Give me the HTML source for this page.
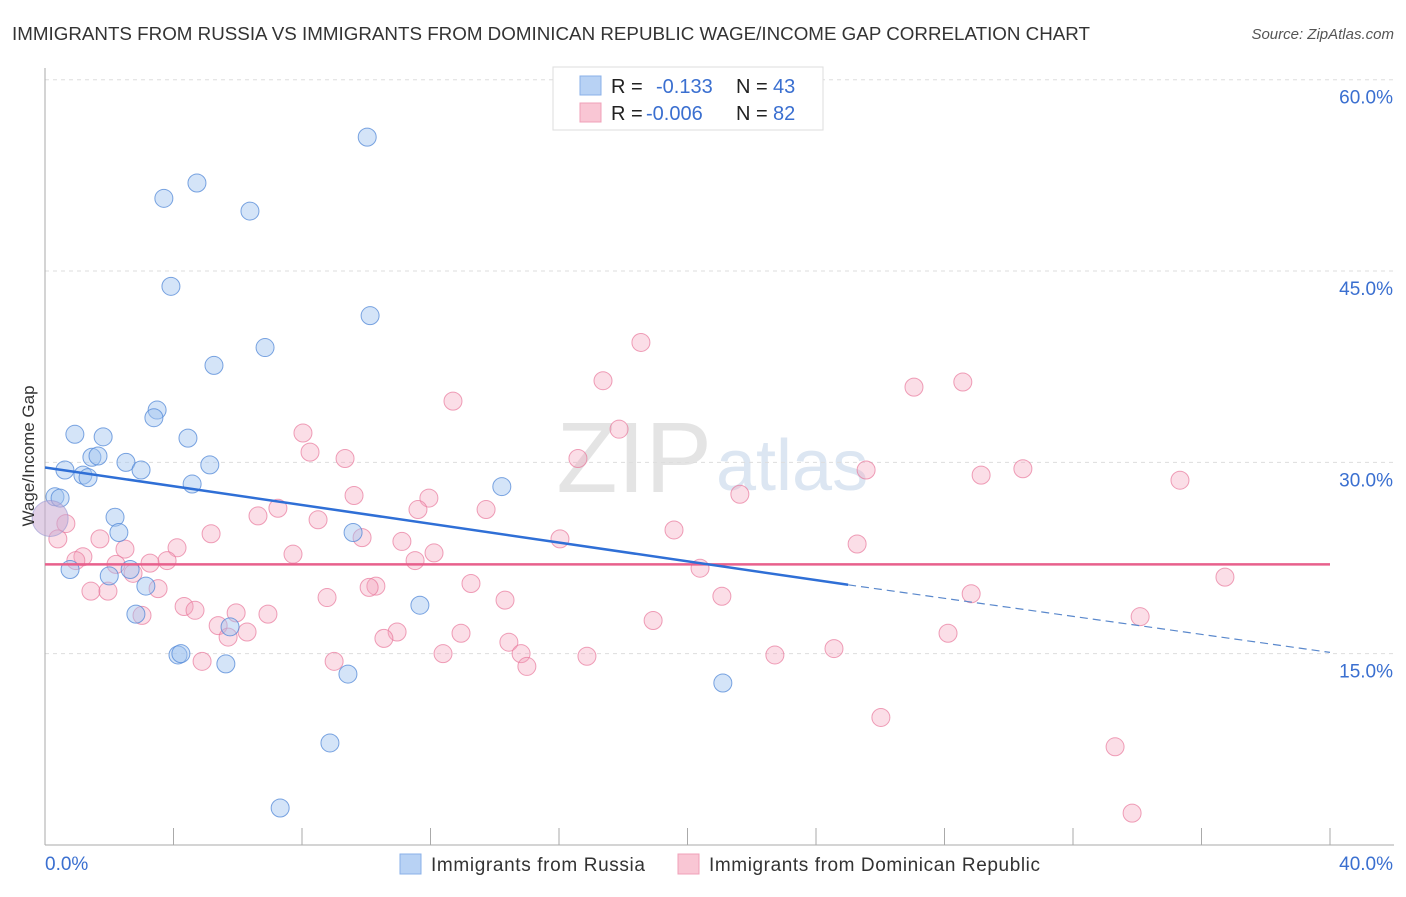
<!DOCTYPE html>
<html><head><meta charset="utf-8"><style>
body{margin:0;background:#fff;font-family:"Liberation Sans",sans-serif;}
svg text{font-family:"Liberation Sans",sans-serif;}
</style></head><body>
<svg id="chart" width="1406" height="892" xmlns="http://www.w3.org/2000/svg">
<text x="12" y="40" font-size="18" fill="#333" textLength="1078" lengthAdjust="spacingAndGlyphs">IMMIGRANTS FROM RUSSIA VS IMMIGRANTS FROM DOMINICAN REPUBLIC WAGE/INCOME GAP CORRELATION CHART</text>
<text x="1394" y="39" font-size="15" fill="#555" text-anchor="end" font-style="italic">Source: ZipAtlas.com</text>
<text x="712" y="492" font-size="100" fill="#e4e4e4" text-anchor="end" font-family="Liberation Serif">ZIP</text>
<text x="716" y="490" font-size="72" fill="#dce6f2">atlas</text>
<g id="grid"></g>
<g id="axes"></g>
<g id="pts"></g>
<g id="lines"></g>
<text transform="translate(34,456) rotate(-90)" font-size="17" fill="#333" text-anchor="middle">Wage/Income Gap</text>
<g>
<rect x="553" y="67" width="270" height="63" fill="#fff" stroke="#ddd"/>
<rect x="580" y="76" width="21" height="19" fill="#b8d2f4" stroke="#8ab0e8"/>
<rect x="580" y="103" width="21" height="19" fill="#f9c6d4" stroke="#f0a0b8"/>
<text x="611" y="93" font-size="20" fill="#222">R = </text><text x="656" y="93" font-size="20" fill="#3a6fd0">-0.133</text>
<text x="736" y="93" font-size="20" fill="#222">N = </text><text x="773" y="93" font-size="20" fill="#3a6fd0">43</text>
<text x="611" y="120" font-size="20" fill="#222">R = </text><text x="646" y="120" font-size="20" fill="#3a6fd0">-0.006</text>
<text x="736" y="120" font-size="20" fill="#222">N = </text><text x="773" y="120" font-size="20" fill="#3a6fd0">82</text>
</g>
<g>
<rect x="400" y="854" width="21" height="20" fill="#b8d2f4" stroke="#8ab0e8"/>
<text x="431" y="871" font-size="19" fill="#333" textLength="214">Immigrants from Russia</text>
<rect x="678" y="854" width="21" height="20" fill="#f9c6d4" stroke="#f0a0b8"/>
<text x="709" y="871" font-size="19" fill="#333" textLength="331">Immigrants from Dominican Republic</text>
</g>
</svg>
<script>
const xTicks=[0,4,8,12,16,20,24,28,32,36,40];
const yTicks=[15,30,45,60];
const yTickLabels=["15.0%","30.0%","45.0%","60.0%"];
const russiaX=[10.03,4.73,3.70,6.38,3.92,10.12,6.85,5.26,3.49,3.39,0.93,1.81,4.45,1.46,1.65,2.52,2.99,0.62,5.13,1.18,1.34,4.58,14.22,0.31,0.47,2.18,2.30,9.59,0.78,2.65,2.00,3.14,2.83,11.67,5.76,4.14,4.23,5.63,9.43,21.10,8.87,7.32];
const russiaY=[55.5,51.9,50.7,49.7,43.8,41.5,39.0,37.6,34.1,33.5,32.2,32.0,31.9,30.4,30.5,30.0,29.4,29.4,29.8,29.0,28.8,28.3,28.1,27.3,27.2,25.7,24.5,24.5,21.6,21.6,21.1,20.3,18.1,18.8,17.1,14.9,15.0,14.2,13.4,12.7,8.0,2.9];
const domX=[18.55,17.37,27.05,28.57,12.70,8.03,17.87,9.34,8.25,16.59,25.56,29.14,30.44,35.33,9.62,21.63,11.95,7.25,11.61,13.73,6.63,8.50,0.65,9.87,19.58,5.17,16.03,11.11,4.11,2.49,12.11,7.72,25.28,1.71,0.40,1.18,0.96,3.80,3.27,2.21,11.52,2.74,20.39,13.26,36.73,1.43,1.96,3.52,10.30,10.09,8.78,14.32,21.07,28.83,4.33,4.67,5.95,6.94,3.02,34.09,5.39,18.93,6.29,10.96,10.55,12.95,5.70,14.44,28.11,12.39,14.82,24.56,4.89,16.87,22.72,9.00,15.00,26.02,33.31,33.84];
const domY=[39.4,36.4,35.9,36.3,34.8,32.3,32.6,30.3,30.8,30.3,29.4,29.0,29.5,28.6,27.4,27.5,27.2,26.4,26.3,26.3,25.8,25.5,25.2,24.1,24.7,24.4,24.0,23.8,23.3,23.2,22.9,22.8,23.6,24.0,24.0,22.6,22.3,22.3,22.1,22.0,22.3,21.3,21.7,20.5,21.0,19.9,19.9,20.1,20.3,20.2,19.4,19.2,19.5,19.7,18.7,18.4,18.2,18.1,18.0,17.9,17.2,17.6,16.7,16.7,16.2,16.6,16.3,15.9,16.6,15.0,15.0,15.4,14.4,14.8,14.9,14.4,14.0,10.0,7.7,2.5];
const bigX=[0.16], bigRY=[25.6], bigDY=[25.5];
const blueLine=[[0,29.6],[25,20.4]], blueDash=[[25,20.4],[40,15.1]], pinkLine=[[0,22.0],[40,22.0]];
const X=v=>45+v*32.125, Y=v=>845-v*(765.3/60);
const NS="http://www.w3.org/2000/svg";
function mk(t,a,p){const e=document.createElementNS(NS,t);for(const k in a)e.setAttribute(k,a[k]);p.appendChild(e);return e;}
const grid=document.getElementById('grid'),axes=document.getElementById('axes'),pts=document.getElementById('pts'),lines=document.getElementById('lines');
yTicks.forEach((t,i)=>{const g=mk('line',{x1:45,x2:1394,y1:Y(t),y2:Y(t),stroke:'#ddd','stroke-dasharray':'4,4'},grid);


const l=mk('text',{x:1393,y:Y(t)+24,'font-size':19,fill:'#3a6fd0','text-anchor':'end'},axes);l.textContent=yTickLabels[i];

});
const ax=mk('line',{x1:45,x2:45,y1:68,y2:845,stroke:'#aaa'},axes);


const bx=mk('line',{x1:45,x2:1394,y1:845,y2:845,stroke:'#aaa'},axes);


xTicks.forEach(t=>{const k=mk('line',{x1:X(t),x2:X(t),y1:828,y2:845,stroke:'#aaa'},axes);

});
const xl0=mk('text',{x:45,y:870,'font-size':19,fill:'#3a6fd0'},axes);xl0.textContent='0.0%';


const xl1=mk('text',{x:1393,y:870,'font-size':19,fill:'#3a6fd0','text-anchor':'end'},axes);xl1.textContent='40.0%';


domX.forEach((v,i)=>{const c=mk('circle',{cx:X(v),cy:Y(domY[i]),r:9,fill:'rgba(244,160,186,0.35)',stroke:'rgba(232,120,155,0.7)','stroke-width':1},pts);

});
russiaX.forEach((v,i)=>{const c=mk('circle',{cx:X(v),cy:Y(russiaY[i]),r:9,fill:'rgba(160,195,240,0.45)',stroke:'rgba(80,135,215,0.75)','stroke-width':1},pts);

});
const big=mk('circle',{cx:X(bigX[0]),cy:Y(bigRY[0]),r:18,fill:'rgba(200,170,210,0.55)',stroke:'rgba(150,150,210,0.6)'},pts);


function ln(p,st,nm){const e=mk('line',Object.assign({x1:X(p[0][0]),y1:Y(p[0][1]),x2:X(p[1][0]),y2:Y(p[1][1])},st),lines);

}
ln(pinkLine,{stroke:'#e8608c','stroke-width':2.5},'dominican-trend-line');
ln(blueLine,{stroke:'#2f6fd6','stroke-width':2.5},'russia-trend-line');
ln(blueDash,{stroke:'#5a88cc','stroke-width':1.2,'stroke-dasharray':'8,5'},'russia-trend-extension');
</script>
</body></html>
